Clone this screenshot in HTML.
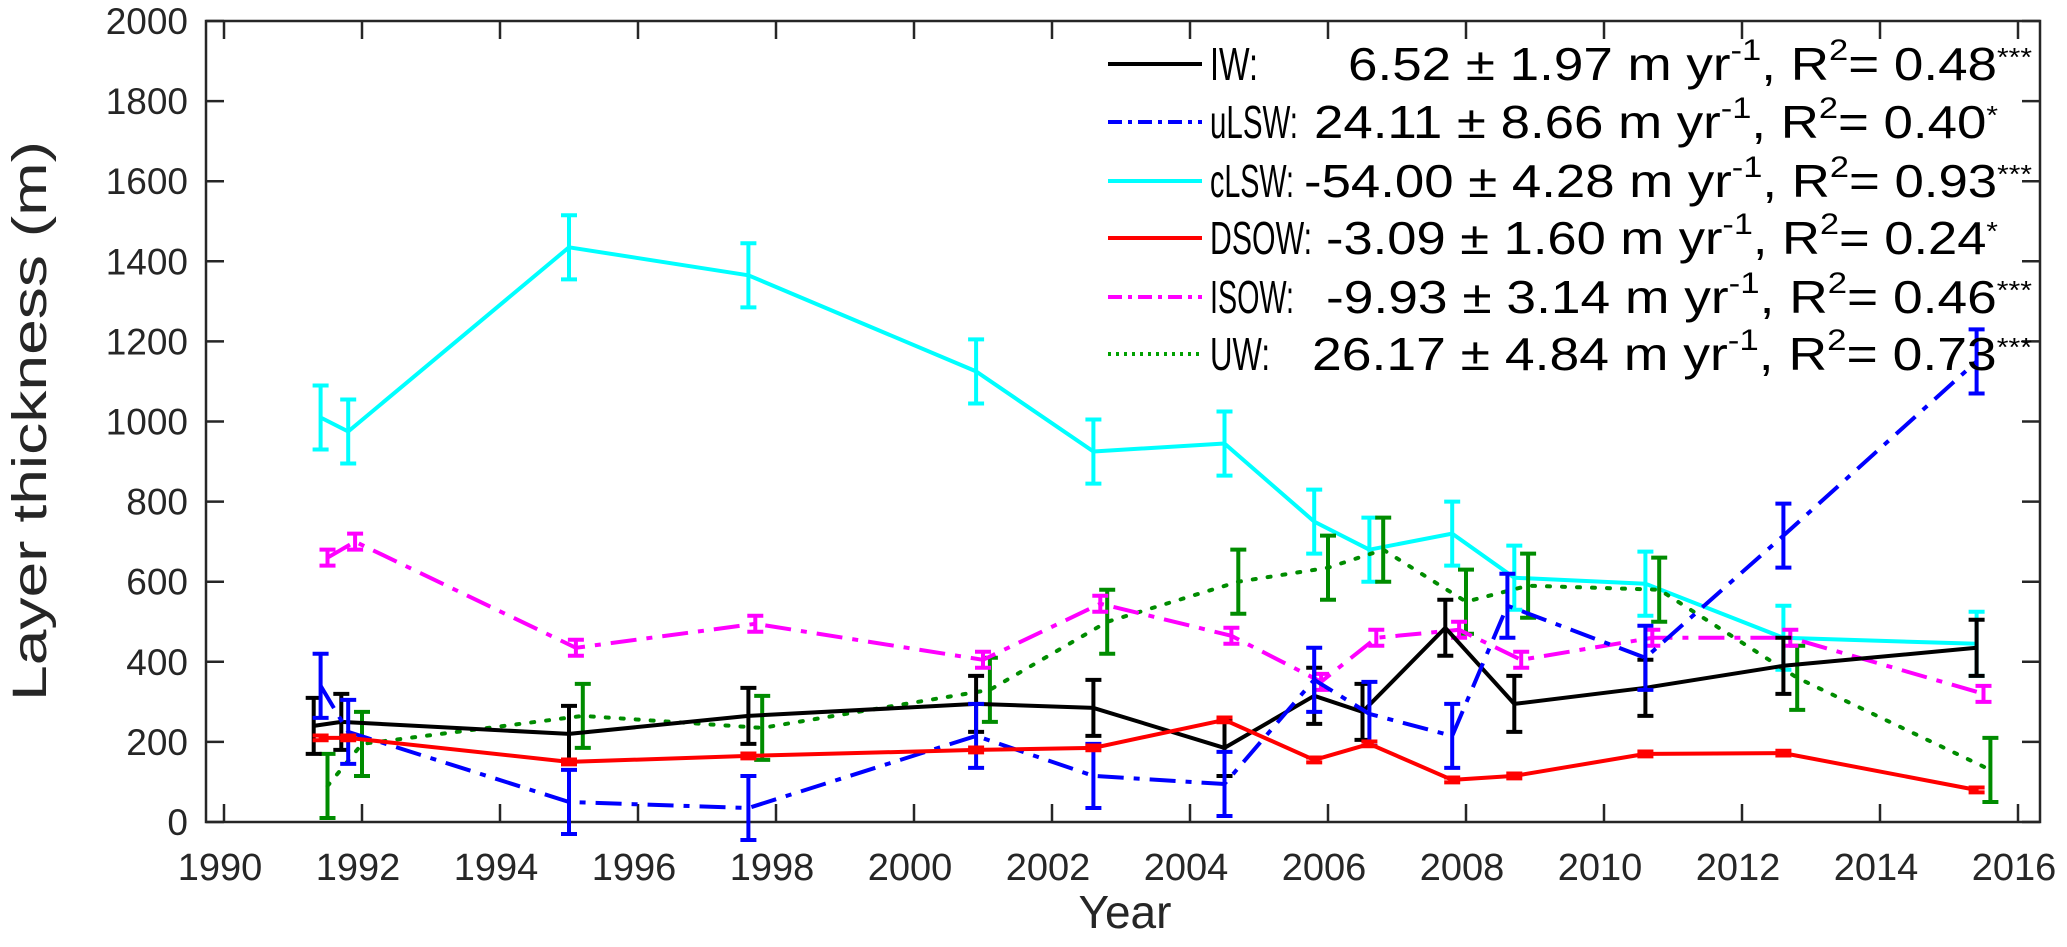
<!DOCTYPE html>
<html><head><meta charset="utf-8"><style>
html,body{margin:0;padding:0;background:#fff}
svg{display:block;font-family:"Liberation Sans",sans-serif}
</style></head><body>
<svg id="chart" width="2067" height="947" viewBox="0 0 2067 947" xmlns="http://www.w3.org/2000/svg">
<g id="axes"></g>
<g id="plot"></g>
<g id="legend"></g>
</svg>
<script>
const xTicks=[1990,1992,1994,1996,1998,2000,2002,2004,2006,2008,2010,2012,2014,2016];
const yTicks=[0,200,400,600,800,1000,1200,1400,1600,1800,2000];
const cLSWx=[1991.4,1991.8,1995,1997.6,2000.9,2002.6,2004.5,2005.8,2006.6,2007.8,2008.7,2010.6,2012.6,2015.4];
const cLSWy=[1010,975,1435,1365,1125,925,945,750,680,720,610,595,460,445];
const cLSWe=[80,80,80,80,80,80,80,80,80,80,80,80,80,80];
const IWx=[1991.3,1991.7,1995,1997.6,2000.9,2002.6,2004.5,2005.8,2006.5,2007.7,2008.7,2010.6,2012.6,2015.4];
const IWy=[240,250,220,265,295,285,185,315,275,485,295,335,390,435];
const IWe=[70,70,70,70,70,70,70,70,70,70,70,70,70,70];
const uLSWx=[1991.4,1991.8,1995,1997.6,2000.9,2002.6,2004.5,2005.8,2006.6,2007.8,2008.6,2010.6,2012.6,2015.4];
const uLSWy=[340,225,50,35,215,115,95,355,270,215,540,410,715,1150];
const uLSWe=[80,80,80,80,80,80,80,80,80,80,80,80,80,80];
const DSOWx=[1991.4,1991.8,1995,1997.6,2000.9,2002.6,2004.5,2005.8,2006.6,2007.8,2008.7,2010.6,2012.6,2015.4];
const DSOWy=[210,210,150,165,180,185,255,155,195,105,115,170,172,80];
const DSOWe=[6,6,6,6,6,6,6,6,6,6,6,6,6,6];
const ISOWx=[1991.5,1991.9,1995.1,1997.7,2001,2002.7,2004.6,2005.9,2006.7,2007.9,2008.8,2010.7,2012.7,2015.5];
const ISOWy=[660,700,435,495,405,545,465,350,460,480,405,460,460,320];
const ISOWe=[20,20,20,20,20,20,20,20,20,20,20,20,20,20];
const UWx=[1991.5,1992,1995.2,1997.8,2001.1,2002.8,2004.7,2006,2006.8,2008,2008.9,2010.8,2012.8,2015.6];
const UWy=[90,195,265,235,330,500,600,635,680,550,590,580,360,130];
const UWe=[80,80,80,80,80,80,80,80,80,80,80,80,80,80];

const NS="http://www.w3.org/2000/svg";
const L=206,R=2040,T=21,B=822;
const X0=224,XS=69.0;
function sx(v){return X0+(v-1990)*XS;}
function sy(v){return B-(v/2000)*(B-T);}
function mk(tag,attrs,parent){const e=document.createElementNS(NS,tag);for(const k in attrs)e.setAttribute(k,attrs[k]);parent.appendChild(e);return e;}
const axes=document.getElementById('axes'),plot=document.getElementById('plot'),leg=document.getElementById('legend');

const frame=mk('rect',{x:L,y:T,width:R-L,height:B-T,fill:'none',stroke:'#262626','stroke-width':2.5},axes);


xTicks.forEach(t=>{
  const x=sx(t);
  mk('line',{x1:x,y1:B,x2:x,y2:B-18,stroke:'#262626','stroke-width':2.5},axes);
  mk('line',{x1:x,y1:T,x2:x,y2:T+18,stroke:'#262626','stroke-width':2.5},axes);
  const tx=mk('text',{x:x-4,y:880,'font-size':38,'text-anchor':'middle',fill:'#262626'},axes);
  tx.textContent=t;
  
  
});
yTicks.forEach(t=>{
  const y=sy(t);
  mk('line',{x1:L,y1:y,x2:L+18,y2:y,stroke:'#262626','stroke-width':2.5},axes);
  mk('line',{x1:R,y1:y,x2:R-18,y2:y,stroke:'#262626','stroke-width':2.5},axes);
  const tx=mk('text',{x:188,y:y+13,'font-size':37,'text-anchor':'end',fill:'#262626'},axes);
  tx.textContent=t;
  
  
});
const xt=mk('text',{x:1125,y:928,'font-size':46,'text-anchor':'middle',fill:'#262626'},axes);
xt.textContent='Year';


const yt=mk('text',{x:0,y:0,'font-size':48,'text-anchor':'middle',fill:'#262626',textLength:560,lengthAdjust:'spacingAndGlyphs',transform:'translate(46,421) rotate(-90)'},axes);
yt.textContent='Layer thickness (m)';



const series=[
 {name:'cLSW',xs:cLSWx,ys:cLSWy,es:cLSWe,c:'#00ffff',dash:null},
 {name:'UW',xs:UWx,ys:UWy,es:UWe,c:'#008c00',dash:'3 12',cap:'round'},
 {name:'ISOW',xs:ISOWx,ys:ISOWy,es:ISOWe,c:'#ff00ff',dash:'26 10 6 10'},
 {name:'IW',xs:IWx,ys:IWy,es:IWe,c:'#000000',dash:null},
 {name:'uLSW',xs:uLSWx,ys:uLSWy,es:uLSWe,c:'#0000ff',dash:'26 10 6 10'},
 {name:'DSOW',xs:DSOWx,ys:DSOWy,es:DSOWe,c:'#ff0000',dash:null}
];
series.forEach(s=>{
  const g=mk('g',{},plot);
  
  
  const pts=s.xs.map((x,i)=>sx(x).toFixed(1)+','+sy(s.ys[i]).toFixed(1)).join(' ');
  const a={points:pts,fill:'none',stroke:s.c,'stroke-width':4,'stroke-linejoin':'round'};
  if(s.dash)a['stroke-dasharray']=s.dash;
  if(s.cap)a['stroke-linecap']=s.cap;
  const pl=mk('polyline',a,g);
  
  
  s.xs.forEach((x,i)=>{
    const px=sx(x),y1=sy(s.ys[i]-s.es[i]),y2=sy(s.ys[i]+s.es[i]);
    const eb=mk('path',{d:`M${px},${y1}V${y2}M${px-8},${y1}H${px+8}M${px-8},${y2}H${px+8}`,stroke:s.c,'stroke-width':4,fill:'none'},g);
    
    
  });
});

const legRows=[
 {lab:'IW:',c:'#000000',dash:null,lw:48,x0:1348,x1:2032,a:'6.52 ± 1.97 m yr',r:'0.48',st:'***'},
 {lab:'uLSW:',c:'#0000ff',dash:'14 6 4 6',lw:88,x0:1314,x1:1998,a:'24.11 ±  8.66 m yr',r:'0.40',st:'*'},
 {lab:'cLSW:',c:'#00ffff',dash:null,lw:84,x0:1304,x1:2032,a:'-54.00 ± 4.28 m yr',r:'0.93',st:'***'},
 {lab:'DSOW:',c:'#ff0000',dash:null,lw:102,x0:1326,x1:1998,a:'-3.09 ± 1.60 m yr',r:'0.24',st:'*'},
 {lab:'ISOW:',c:'#ff00ff',dash:'14 6 4 6',lw:84,x0:1326,x1:2032,a:'-9.93 ± 3.14 m yr',r:'0.46',st:'***'},
 {lab:'UW:',c:'#00a000',dash:'3 5',lw:60,x0:1312,x1:2032,a:'26.17 ± 4.84 m yr',r:'0.73',st:'***'}
];
const rowY=[64,122,181,238,297,354];
legRows.forEach((r,i)=>{
  const y=rowY[i];
  const g=mk('g',{},leg);
  
  
  const a={x1:1108,y1:y,x2:1202,y2:y,stroke:r.c,'stroke-width':4};
  if(r.dash)a['stroke-dasharray']=r.dash;
  mk('line',a,g);
  const t1=mk('text',{x:1210,y:y+16,'font-size':46,fill:'#000',textLength:r.lw,lengthAdjust:'spacingAndGlyphs'},g);
  t1.textContent=r.lab;
  const t2=mk('text',{x:r.x0,y:y+16,'font-size':46,fill:'#000',textLength:r.x1-r.x0,lengthAdjust:'spacingAndGlyphs'},g);
  t2.innerHTML=r.a+'<tspan font-size="30" dy="-20">-1</tspan><tspan dy="20">, R</tspan><tspan font-size="30" dy="-20">2</tspan><tspan dy="20">= '+r.r+'</tspan><tspan font-size="26" dy="-14">'+r.st+'</tspan>';
});
</script>
</body></html>
